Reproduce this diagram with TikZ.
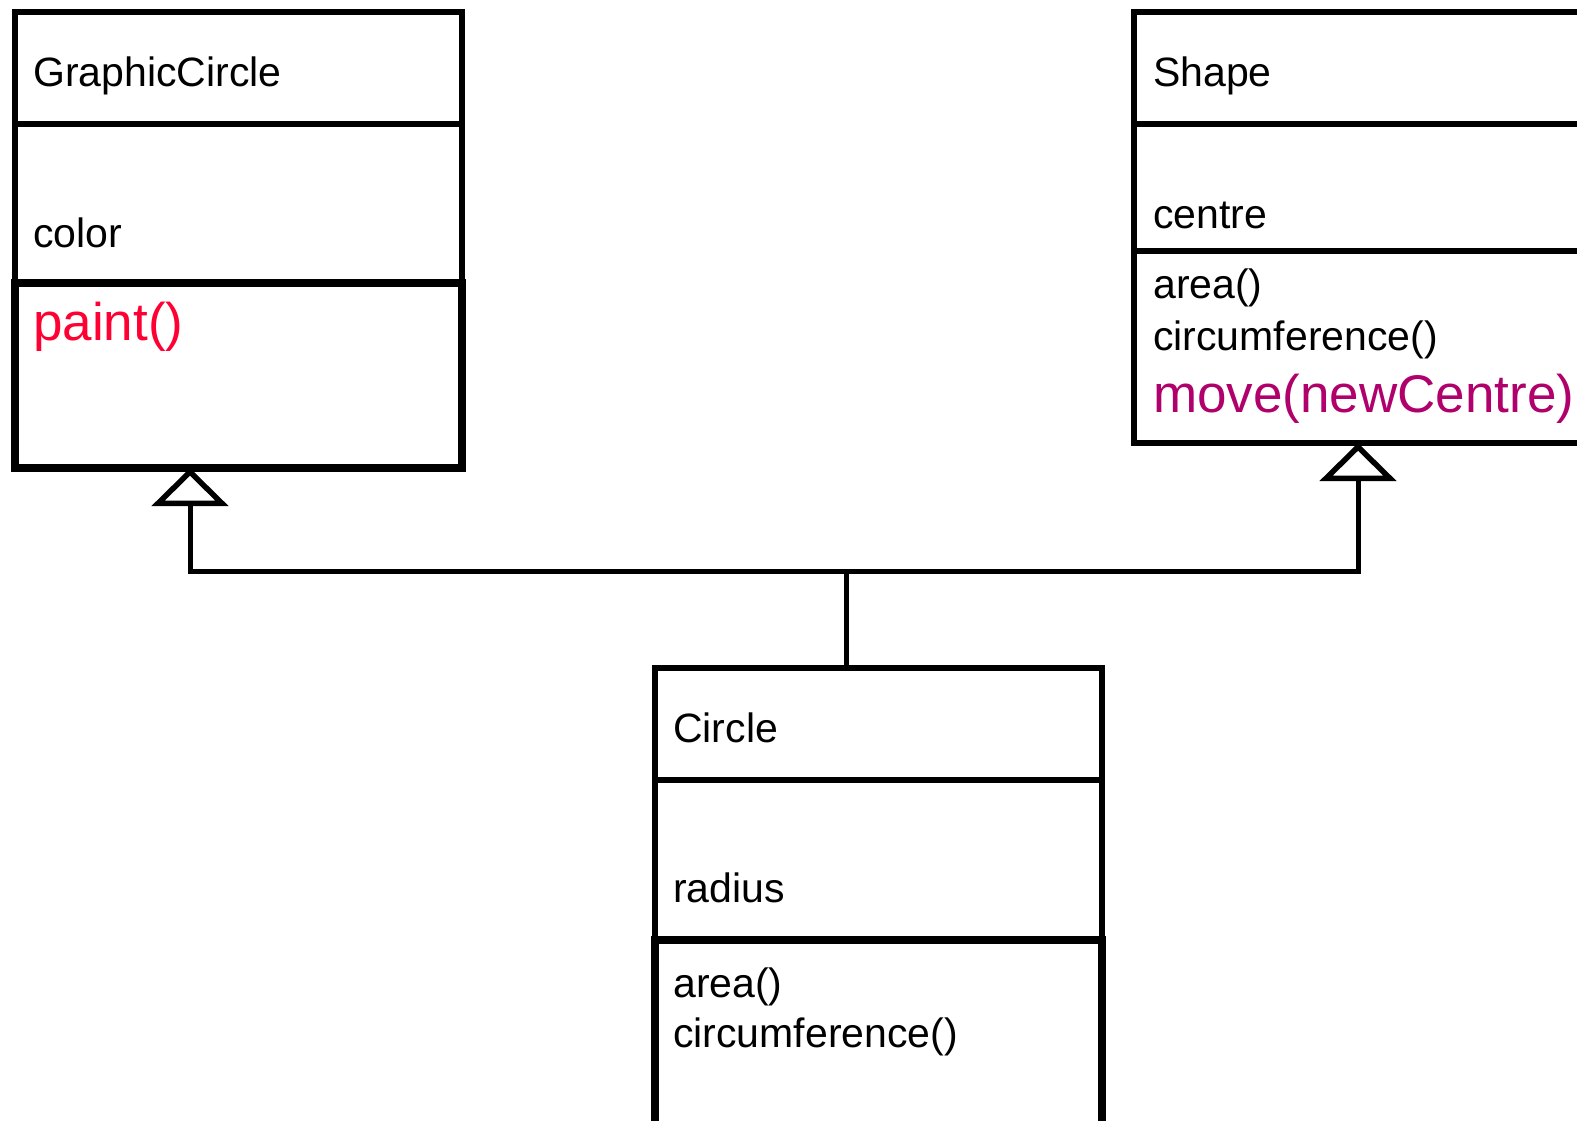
\documentclass[tikz,border=0pt]{standalone}
\usepackage{fontspec}
\setmainfont{Liberation Sans}
\usetikzlibrary{arrows.meta}
\definecolor{opred}{HTML}{FF0033}
\definecolor{opmag}{HTML}{B0006B}
\tikzset{
  thinbox/.style={draw=black, line width=5.5pt, inner sep=0pt, outer sep=0pt, rectangle},
  thickbox/.style={draw=black, line width=8pt, inner sep=0pt, outer sep=0pt, rectangle},
  txt/.style={anchor=base west, inner sep=0pt, font=\fontsize{41}{41}\selectfont},
  bigtxt/.style={anchor=base west, inner sep=0pt, font=\fontsize{53}{53}\selectfont},
  conn/.style={draw=black, line width=5pt},
  inherit/.style={-{Triangle[open, length=38pt, width=76pt, line width=5.5pt]}}
}
\begin{document}
\begin{tikzpicture}[x=1pt,y=-1pt]
\path[use as bounding box, clip] (0,0) rectangle (1577,1121);
\fill[white] (0,0) rectangle (1577,1121);
% GraphicCircle
\node[thinbox, minimum width=447pt, minimum height=112pt] (gcA) at (238.5,68) {};
\node[thinbox, minimum width=447pt, minimum height=159pt] (gcB) at (238.5,203.5) {};
\node[thickbox, minimum width=447pt, minimum height=185pt] (gcC) at (238.5,375.5) {};
\node[txt] (gcname) at (33,87) {GraphicCircle};
\node[txt] (gcattr) at (33,247) {color};
\node[bigtxt, text=opred] (gcop) at (33,340) {paint()};
% Shape
\node[thinbox, minimum width=480pt, minimum height=112pt] (sA) at (1374,68) {};
\node[thinbox, minimum width=480pt, minimum height=127pt] (sB) at (1374,187.5) {};
\node[thinbox, minimum width=480pt, minimum height=192pt] (sC) at (1374,347) {};
\node[txt] (sname) at (1153,87) {Shape};
\node[txt] (sattr) at (1153,228) {centre};
\node[txt] (sop1) at (1153,298) {area()};
\node[txt] (sop2) at (1153,350) {circumference()};
\node[bigtxt, text=opmag] (sop3) at (1153,412) {move(newCentre)};
% Circle
\node[thinbox, minimum width=447pt, minimum height=112pt] (cA) at (878.5,724) {};
\node[thinbox, minimum width=447pt, minimum height=160pt] (cB) at (878.5,860) {};
\node[thickbox, minimum width=447pt, minimum height=220pt] (cC) at (878.5,1050) {};
\node[txt] (cname) at (673,742) {Circle};
\node[txt] (cattr) at (673,902) {radius};
\node[txt] (cop1) at (673,997) {area()};
\node[txt] (cop2) at (673,1047) {circumference()};
% connectors
\coordinate (junc) at (846,571);
\coordinate (gcfoot) at (190,571);
\coordinate (sfoot) at (1358,571);
\draw[conn] (cA.north -| junc) -- (junc);
\draw[conn, inherit] (junc) -- (gcfoot) -- (gcfoot |- gcC.south);
\draw[conn, inherit] (junc) -- (sfoot) -- (sfoot |- sC.south);
\end{tikzpicture}
\end{document}
